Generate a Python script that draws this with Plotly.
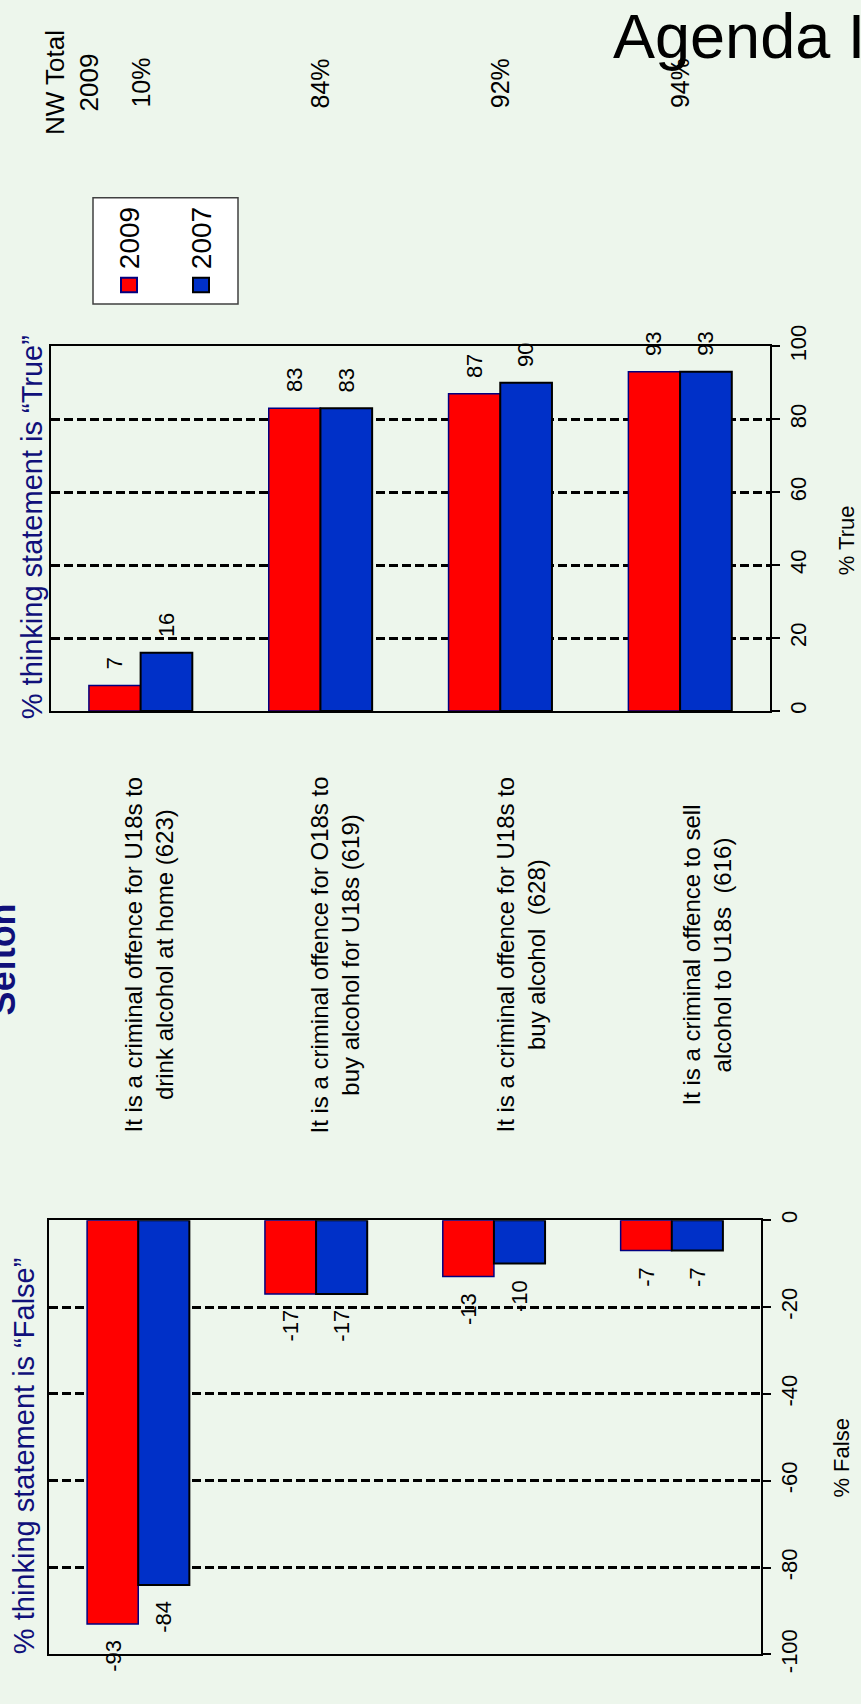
import plotly.graph_objects as go

# ---------------- data ----------------
categories = [0, 1, 2, 3]
statements = [
    "It is a criminal offence for U18s to<br>drink alcohol at home (623)",
    "It is a criminal offence for O18s to<br>buy alcohol for U18s (619)",
    "It is a criminal offence for U18s to<br>buy alcohol  (628)",
    "It is a criminal offence to sell<br>alcohol to U18s  (616)",
]
true_2009 = [7, 83, 87, 93]
true_2007 = [16, 83, 90, 93]
false_2009 = [-93, -17, -13, -7]
false_2007 = [-84, -17, -10, -7]
nw_total_2009 = ["10%", "84%", "92%", "94%"]
true_ticks = [0, 20, 40, 60, 80, 100]
false_ticks = [0, -20, -40, -60, -80, -100]
series_names = ["2009", "2007"]

# ---------------- style ----------------
W, H = 861, 1704
BG = "#EDF6EC"
RED, BLUE = "#FF0000", "#0030C8"
NAVY = "#10107A"
FONT = "Liberation Sans, Arial, sans-serif"
BARGAP = 0.425
bar_w = (1 - BARGAP) / 2
TOP_X = [50.7 / W, 770 / W]
TOP_Y = [1 - 706 / H, 1 - 332.3 / H]
BOT_X = [49.3 / W, 760.7 / W]
BOT_Y = [1 - 1672.7 / H, 1 - 1227.7 / H]
LABEL_X = [55.5 / W, 799.5 / W]

def px(xp):
    return xp / W

def py(yp):
    return 1 - yp / H

fig = go.Figure()
outline = [dict(color="#000080", width=1.5), dict(color="black", width=2)]
colors = [RED, BLUE]

for k, (vals_t, vals_f) in enumerate([(true_2009, false_2009), (true_2007, false_2007)]):
    fig.add_trace(go.Bar(x=categories, y=vals_t, name=series_names[k],
                         marker=dict(color=colors[k], line=outline[k]),
                         xaxis="x", yaxis="y", offsetgroup=str(k), showlegend=False))
    fig.add_trace(go.Bar(x=categories, y=vals_f, name=series_names[k],
                         marker=dict(color=colors[k], line=outline[k]),
                         xaxis="x2", yaxis="y2", offsetgroup=str(k), showlegend=False))

annotations = []
label_font = dict(family=FONT, size=22, color="black")
for k, (vals_t, vals_f) in enumerate([(true_2009, false_2009), (true_2007, false_2007)]):
    off = (-0.5 + k) * bar_w
    for i, v in enumerate(vals_t):
        annotations.append(dict(x=categories[i] + off, y=v, xref="x", yref="y",
                                text=str(v), showarrow=False, textangle=-90,
                                yanchor="bottom", xanchor="center", yshift=14,
                                font=label_font))
    for i, v in enumerate(vals_f):
        annotations.append(dict(x=categories[i] + off, y=v, xref="x2", yref="y2",
                                text=str(v), showarrow=False, textangle=-90,
                                yanchor="top", xanchor="center", yshift=-14,
                                font=label_font))

# statement labels (middle column)
n = len(statements)
for i, s in enumerate(statements):
    xc = LABEL_X[0] + (i + 0.5) / n * (LABEL_X[1] - LABEL_X[0])
    annotations.append(dict(x=xc, y=py(956), xref="paper", yref="paper", text=s,
                            showarrow=False, textangle=-90, align="center",
                            xanchor="center", yanchor="middle",
                            font=dict(family=FONT, size=24, color="black")))

# NW total column
for i, t in enumerate(nw_total_2009):
    annotations.append(dict(x=categories[i], y=py(62.5), xref="x", yref="paper", text=t,
                            showarrow=False, textangle=-90, xanchor="center", yanchor="middle",
                            font=dict(family=FONT, size=25, color="black")))
annotations.append(dict(x=px(72), y=py(62.5), xref="paper", yref="paper",
                        text="NW Total<br>2009", showarrow=False, textangle=-90,
                        align="center", xanchor="center", yanchor="middle",
                        font=dict(family=FONT, size=26, color="black")))

# titles
annotations += [
    dict(x=px(31.7), y=py(518), xref="paper", yref="paper",
         text="% thinking statement is “True”", showarrow=False, textangle=-90,
         xanchor="center", yanchor="middle", font=dict(family=FONT, size=29, color=NAVY)),
    dict(x=px(23.5), y=py(1470), xref="paper", yref="paper",
         text="% thinking statement is “False”", showarrow=False, textangle=-90,
         xanchor="center", yanchor="middle", font=dict(family=FONT, size=29, color=NAVY)),
    dict(x=px(846), y=py(531), xref="paper", yref="paper", text="% True",
         showarrow=False, textangle=-90, xanchor="center", yanchor="middle",
         font=dict(family=FONT, size=22, color="black")),
    dict(x=px(842), y=py(1472), xref="paper", yref="paper", text="% False",
         showarrow=False, textangle=-90, xanchor="center", yanchor="middle",
         font=dict(family=FONT, size=22, color="black")),
    dict(x=px(2.5), y=py(961), xref="paper", yref="paper", text="<b>Sefton</b>",
         showarrow=False, textangle=-90, xanchor="center", yanchor="middle",
         font=dict(family=FONT, size=36, color=NAVY)),
    dict(x=px(611), y=py(-24), xref="paper", yref="paper", text="Agenda I",
         showarrow=False, xanchor="left", yanchor="top",
         font=dict(family=FONT, size=63, color="black")),
]

# legend (drawn manually, rotated like the rest of the slide)
shapes = [dict(type="rect", xref="paper", yref="paper", x0=px(93), x1=px(238),
               y0=py(289), y1=py(180), fillcolor="white",
               line=dict(color="#404040", width=1.5), layer="above")]
legend_x = [129, 201]
for k in range(2):
    cx = legend_x[k]
    shapes.append(dict(type="rect", xref="paper", yref="paper",
                       x0=px(cx - 8), x1=px(cx + 8), y0=py(277), y1=py(262),
                       fillcolor=colors[k], line=dict(color=outline[k]["color"], width=2),
                       layer="above"))
    annotations.append(dict(x=px(cx), y=py(221.5), xref="paper", yref="paper",
                            text=series_names[k], showarrow=False, textangle=-90,
                            xanchor="center", yanchor="middle",
                            font=dict(family=FONT, size=28, color="black")))

axis_common = dict(showline=True, linecolor="black", linewidth=2, mirror=True,
                   zeroline=False)
yaxis_common = dict(axis_common, side="right", ticks="outside", ticklen=8, tickwidth=2,
                    tickcolor="black", tickangle=-90, showgrid=True, gridcolor="black",
                    gridwidth=2.5, griddash="9px,4px",
                    tickfont=dict(family=FONT, size=22, color="black"))

fig.update_layout(
    width=W, height=H, margin=dict(l=0, r=0, t=0, b=0),
    paper_bgcolor=BG, plot_bgcolor="rgba(0,0,0,0)",
    barmode="group", bargap=BARGAP, bargroupgap=0,
    showlegend=False,
    xaxis=dict(axis_common, domain=TOP_X, anchor="y", range=[-0.5, 3.5],
               showticklabels=False, showgrid=False, ticks=""),
    xaxis2=dict(axis_common, domain=BOT_X, anchor="y2", range=[-0.5, 3.5],
                showticklabels=False, showgrid=False, ticks=""),
    yaxis=dict(yaxis_common, domain=TOP_Y, anchor="x", range=[0, 100],
               tickvals=true_ticks, ticktext=[str(v) for v in true_ticks]),
    yaxis2=dict(yaxis_common, domain=BOT_Y, anchor="x2", range=[-100, 0],
                tickvals=false_ticks, ticktext=[str(v) for v in false_ticks]),
    annotations=annotations,
    shapes=shapes,
)

fig.write_html("out.html")
